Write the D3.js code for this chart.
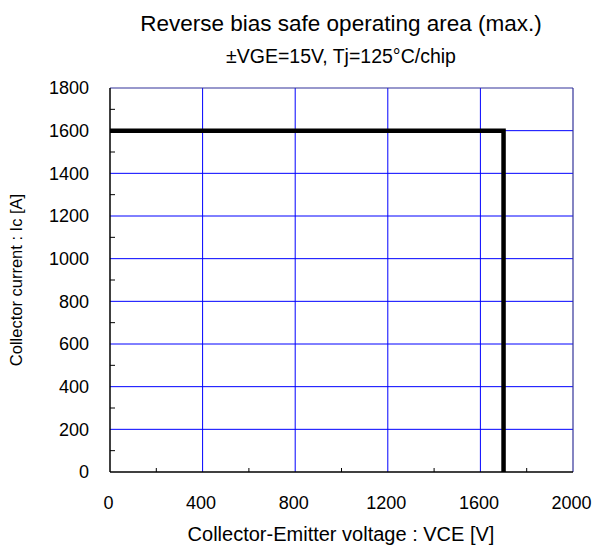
<!DOCTYPE html>
<html><head><meta charset="utf-8">
<script src="https://cdn.jsdelivr.net/npm/d3@7"></script>
<style>body{margin:0;background:#fff}svg{display:block}text{font-family:"Liberation Sans",Arial,sans-serif;fill:#000}</style>
</head><body><svg id="c" width="593" height="547"></svg>
<script>
const xTicks = [0, 400, 800, 1200, 1600, 2000];
const yTicks = [0, 200, 400, 600, 800, 1000, 1200, 1400, 1600, 1800];
const xMinor = [200, 600, 1000, 1400, 1800];
const yMinor = [100, 300, 500, 700, 900, 1100, 1300, 1500, 1700];
const vce = [0, 1700, 1700];
const ic = [1600, 1600, 0];

const svg = d3.select("#c");
const L = 110, R = 573, T = 88, B = 472;
const x = d3.scaleLinear().domain([0, 2000]).range([L, R]);
const y = d3.scaleLinear().domain([0, 1800]).range([B, T]);

// grid
svg.append("g").selectAll("line").data(xTicks.slice(1, -1)).join("line")
  .attr("x1", d => x(d)).attr("x2", d => x(d)).attr("y1", T).attr("y2", B)
  .attr("stroke", "#0000ff").attr("stroke-width", 1);
svg.append("g").selectAll("line").data(yTicks.slice(1, -1)).join("line")
  .attr("x1", L).attr("x2", R).attr("y1", d => y(d)).attr("y2", d => y(d))
  .attr("stroke", "#0000ff").attr("stroke-width", 1);
// top/right border
svg.append("line").attr("x1", L).attr("x2", R).attr("y1", T).attr("y2", T).attr("stroke", "#333399").attr("stroke-width", 1.2);
svg.append("line").attr("x1", R).attr("x2", R).attr("y1", T).attr("y2", B).attr("stroke", "#333399").attr("stroke-width", 1.2);

// axes
const xAxis = svg.append("g").attr("transform", `translate(-2,${B})`)
  .call(d3.axisBottom(x).tickValues(xTicks).tickSize(0).tickPadding(24).tickFormat(d3.format("d")));
const yAxis = svg.append("g").attr("transform", `translate(${L},0)`)
  .call(d3.axisLeft(y).tickValues(yTicks).tickSize(0).tickPadding(21).tickFormat(d3.format("d")));
[xAxis, yAxis].forEach(a => {
  a.select(".domain").remove();
  a.selectAll("text").style("font-size", "18px").style("font-family", "Liberation Sans, Arial, sans-serif");
});
svg.append("line").attr("x1", L).attr("x2", R).attr("y1", B).attr("y2", B).attr("stroke", "#000").attr("stroke-width", 1.5);
svg.append("line").attr("x1", L).attr("x2", L).attr("y1", T).attr("y2", B).attr("stroke", "#000").attr("stroke-width", 1.5);
// minor inward ticks
svg.append("g").selectAll("line").data(xMinor).join("line")
  .attr("x1", d => x(d)).attr("x2", d => x(d)).attr("y1", B).attr("y2", B - 4).attr("stroke", "#000");
svg.append("g").selectAll("line").data(yMinor).join("line")
  .attr("x1", L).attr("x2", L + 5).attr("y1", d => y(d)).attr("y2", d => y(d)).attr("stroke", "#000");

// curve
const pts = vce.map((v, i) => [v, ic[i]]);
svg.append("path").datum(pts)
  .attr("d", d3.line().x(d => x(d[0])).y(d => y(d[1])))
  .attr("fill", "none").attr("stroke", "#000").attr("stroke-width", 4.5).attr("stroke-linejoin", "miter");

// titles
svg.append("text").attr("x", 341).attr("y", 31).attr("text-anchor", "middle").style("font-size", "22.5px")
  .text("Reverse bias safe operating area (max.)");
svg.append("text").attr("x", 341).attr("y", 63).attr("text-anchor", "middle").style("font-size", "19.5px")
  .text("±VGE=15V, Tj=125°C/chip");
svg.append("text").attr("x", 341).attr("y", 541).attr("text-anchor", "middle").style("font-size", "20px")
  .text("Collector-Emitter voltage : VCE [V]");
svg.append("text").attr("transform", `translate(22,${(T + B) / 2}) rotate(-90)`).attr("text-anchor", "middle").style("font-size", "16.5px")
  .text("Collector current : Ic [A]");
</script></body></html>
